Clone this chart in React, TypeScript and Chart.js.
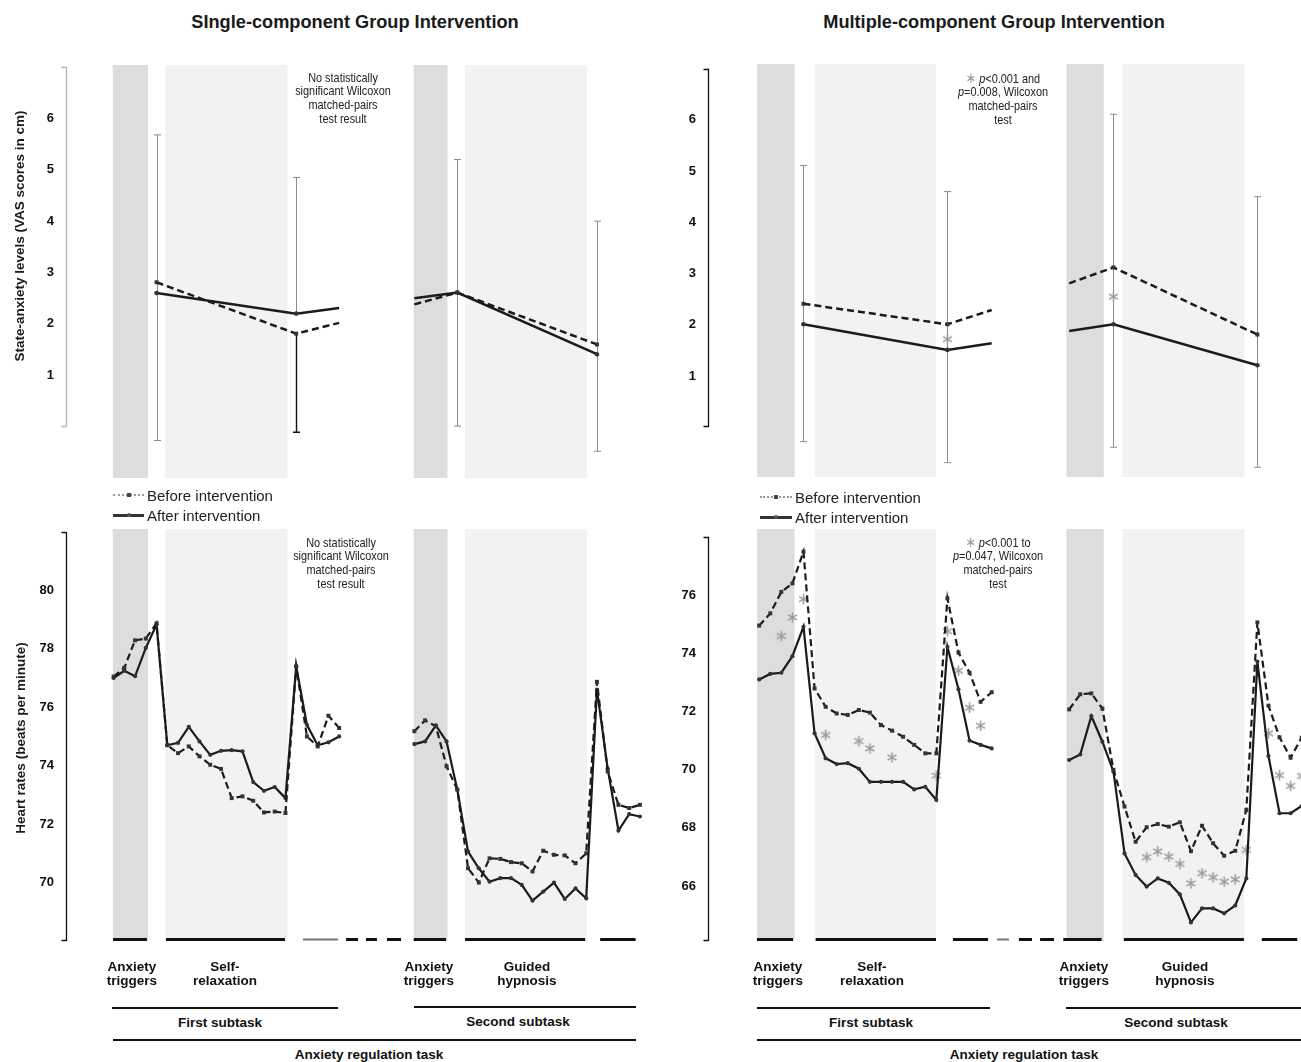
import React, { useEffect, useRef } from 'react';
import { Chart, registerables } from 'chart.js';

Chart.register(...registerables);

// ---------------- data ----------------
// sample positions (one per heart-rate sample) shared by all panels
const hrIdxFirst = [0, 1, 2, 3, 4, 5, 6, 7, 8, 9, 10, 11, 12, 13, 14, 15, 16, 17, 18, 19, 20, 21];
const hrIdxSecond = [28, 29, 30, 31, 32, 33, 34, 35, 36, 37, 38, 39, 40, 41, 42, 43, 44, 45, 46, 47, 48, 49];

// Single-component group, heart rates
const singleHrBefore1 = [77.05, 77.35, 78.29, 78.35, 78.87, 74.7, 74.43, 74.66, 74.32, 74.03, 73.89, 72.89, 72.95, 72.8, 72.4, 72.43, 72.38, 77.4, 75.0, 74.66, 75.71, 75.29];
const singleHrAfter1 = [77.0, 77.25, 77.06, 78.03, 78.83, 74.7, 74.78, 75.33, 74.83, 74.37, 74.51, 74.53, 74.49, 73.44, 73.14, 73.27, 72.89, 77.4, 75.4, 74.7, 74.8, 75.0];
const singleHrBefore2 = [75.18, 75.55, 75.35, 73.98, 73.18, 70.49, 70.0, 70.83, 70.81, 70.7, 70.66, 70.38, 71.09, 70.95, 70.93, 70.66, 71.0, 76.87, 73.8, 72.66, 72.55, 72.66];
const singleHrAfter2 = [74.74, 74.83, 75.38, 74.83, 73.18, 71.06, 70.49, 70.03, 70.15, 70.15, 69.92, 69.38, 69.69, 70.0, 69.44, 69.8, 69.46, 76.6, 73.9, 71.78, 72.34, 72.26];

// Multiple-component group, heart rates
const multiHrBefore1 = [74.95, 75.37, 76.11, 76.4, 77.49, 72.79, 72.16, 71.93, 71.88, 72.05, 71.96, 71.53, 71.34, 71.13, 70.85, 70.56, 70.56, 75.89, 74.02, 73.33, 72.33, 72.66];
const multiHrAfter1 = [73.1, 73.29, 73.33, 73.9, 74.91, 71.25, 70.39, 70.19, 70.22, 70.03, 69.58, 69.58, 69.58, 69.58, 69.32, 69.41, 68.96, 74.22, 72.76, 71.0, 70.85, 70.73];
const multiHrBefore2 = [72.07, 72.59, 72.62, 72.1, 69.99, 68.73, 67.52, 68.02, 68.13, 68.04, 68.19, 67.2, 68.07, 67.47, 67.04, 67.21, 68.61, 75.06, 72.2, 71.11, 70.41, 71.1];
const multiHrAfter2 = [70.33, 70.52, 71.84, 70.96, 69.93, 67.12, 66.38, 65.98, 66.26, 66.11, 65.71, 64.75, 65.23, 65.23, 65.06, 65.33, 66.26, 73.71, 70.47, 68.5, 68.5, 68.75];
const multiHrStarIdx = [2, 3, 4, 6, 9, 10, 12, 16, 17, 18, 19, 20, 35, 36, 37, 38, 39, 40, 41, 42, 43, 44, 46, 47, 48, 49];
const multiHrStarVal = [74.59, 75.23, 75.86, 71.19, 70.98, 70.73, 70.42, 69.79, 74.76, 73.4, 72.13, 71.51, 66.99, 67.19, 67.01, 66.76, 66.09, 66.44, 66.3, 66.15, 66.23, 67.24, 71.25, 69.81, 69.44, 69.78];

// State anxiety (VAS)
const vasIdxFirst = [4, 17, 21];
const vasIdxSecond = [28, 32, 45];
const vasMarkedFirst = [true, true, false];
const vasMarkedSecond = [false, true, true];
const singleVasBefore1 = [2.81, 1.81, 2.02];
const singleVasAfter1 = [2.6, 2.2, 2.31];
const singleVasBefore2 = [2.38, 2.61, 1.6];
const singleVasAfter2 = [2.5, 2.61, 1.41];
const multiVasBefore1 = [2.41, 2.01, 2.29];
const multiVasAfter1 = [2.01, 1.51, 1.64];
const multiVasBefore2 = [2.81, 3.12, 1.81];
const multiVasAfter2 = [1.88, 2.01, 1.21];

const singleErrIdx = [4, 17, 17, 32, 45];
const singleErrLow = [-0.27, 2.2, -0.11, 0.01, -0.48];
const singleErrHigh = [5.68, 4.85, 1.81, 5.2, 4.0];
const singleErrKind = ['full', 'upper', 'lower', 'full', 'full'];
const multiErrIdx = [4, 17, 32, 45];
const multiErrLow = [-0.28, -0.69, -0.39, -0.78];
const multiErrHigh = [5.11, 4.6, 6.11, 4.5];
const multiErrKind = ['full', 'full', 'full', 'full'];
const multiVasStarIdx = [17, 32];
const multiVasStarVal = [1.72, 2.55];

// phases (in sample positions): anxiety triggers, relaxation, ...
const bandsLeft = [[-0.07, 3.21], [4.82, 16.19], [27.94, 31.08], [32.72, 44.08]];
const bandsRight = [[-0.19, 3.19], [5.02, 15.97], [27.75, 31.12], [32.81, 43.83]];
const phasesLeft = [[-0.05, 3.1], [4.88, 15.96], [17.63, 20.89], [21.64, 22.76], [23.5, 24.52], [25.45, 26.76], [27.94, 30.95], [32.72, 43.9], [45.3, 48.6]];
const phasesLeftMuted = [false, false, true, false, false, false, false, false, false];
const phasesRight = [[-0.2, 3.05], [5.1, 15.97], [17.5, 20.67], [21.48, 22.56], [23.46, 24.64], [25.37, 26.63], [27.47, 30.93], [32.94, 43.78], [45.4, 48.6]];
const phasesRightMuted = [false, false, false, true, false, false, false, false, false];

const vasTicks = [1, 2, 3, 4, 5, 6];
const singleHrTicks = [70, 72, 74, 76, 78, 80];
const multiHrTicks = [66, 68, 70, 72, 74, 76];

// ---------------- styles ----------------
const SANS = "'Liberation Sans', Arial, Helvetica, sans-serif";
const DARK_BAND = '#dcdddf';
const LIGHT_BAND = '#f1f2f4';
const LINE = '#1b1b1b';
const PAD = 26;

type PanelCfg = {
  canvasLeft: number; axisX: number; right: number; areaTop: number; areaBottom: number;
  xMin: number; xMax: number; yMin: number; yMax: number;
  axisFrom: number; axisTo: number; axisColor: string; ticks: number[];
  bands: number[][]; phases?: number[][]; phasesMuted?: boolean[];
  datasets: any[];
  err?: { idx: number[]; low: number[]; high: number[]; kind: string[] };
};

let starCache: HTMLCanvasElement | null = null;
function asterisk(): HTMLCanvasElement {
  if (starCache) return starCache;
  const c = document.createElement('canvas');
  c.width = 13; c.height = 13;
  const g = c.getContext('2d')!;
  g.strokeStyle = '#9b9b9b';
  g.lineWidth = 1.6;
  const r = 5.2;
  for (let k = 0; k < 3; k++) {
    const a = Math.PI / 2 + (k * Math.PI) / 3;
    g.beginPath();
    g.moveTo(6.5 - r * Math.cos(a), 6.5 - r * Math.sin(a));
    g.lineTo(6.5 + r * Math.cos(a), 6.5 + r * Math.sin(a));
    g.stroke();
  }
  starCache = c;
  return c;
}

function lineSet(xs: number[], ys: number[], dashed: boolean, width: number, marked?: boolean[]) {
  return {
    data: xs.map((x, i) => ({ x, y: ys[i] })),
    borderColor: LINE,
    borderWidth: width,
    borderDash: dashed ? [7, 4] : [],
    pointStyle: dashed ? 'rect' : 'circle',
    pointRadius: marked ? marked.map((m) => (m ? (dashed ? 2.8 : 2.3) : 0)) : dashed ? 2.8 : 2.1,
    pointBackgroundColor: '#333',
    pointBorderColor: '#333',
    pointBorderWidth: 0,
    tension: 0,
    fill: false,
  };
}

function starSet(xs: number[], ys: number[]) {
  return {
    data: xs.map((x, i) => ({ x, y: ys[i] })),
    showLine: false,
    pointStyle: asterisk(),
    pointRadius: 6,
    borderColor: '#9b9b9b',
    backgroundColor: '#9b9b9b',
  };
}

function deco(cfg: PanelCfg) {
  return {
    id: 'deco',
    beforeDatasetsDraw(chart: any) {
      const { ctx, chartArea: a, scales } = chart;
      const x = scales.x, y = scales.y;
      ctx.save();
      cfg.bands.forEach((b, i) => {
        const x0 = x.getPixelForValue(b[0]);
        const x1 = x.getPixelForValue(b[1]);
        ctx.fillStyle = i % 2 === 0 ? DARK_BAND : LIGHT_BAND;
        ctx.fillRect(x0, a.top, x1 - x0, a.bottom - a.top);
      });
      if (cfg.err) {
        const e = cfg.err;
        e.idx.forEach((ix, i) => {
          const px = Math.round(x.getPixelForValue(ix)) + 0.5;
          const lo = y.getPixelForValue(e.low[i]);
          const hi = y.getPixelForValue(e.high[i]);
          const dark = e.kind[i] === 'lower';
          ctx.strokeStyle = dark ? '#111' : '#8c8c8c';
          ctx.lineWidth = dark ? 1.4 : 1;
          ctx.beginPath();
          ctx.moveTo(px, lo);
          ctx.lineTo(px, hi);
          if (e.kind[i] !== 'lower') { ctx.moveTo(px - 3.5, hi); ctx.lineTo(px + 3.5, hi); }
          if (e.kind[i] !== 'upper') { ctx.moveTo(px - 3.5, lo); ctx.lineTo(px + 3.5, lo); }
          ctx.stroke();
        });
      }
      ctx.restore();
    },
    afterDatasetsDraw(chart: any) {
      if (!cfg.phases) return;
      const { ctx, chartArea: a, scales } = chart;
      const x = scales.x;
      ctx.save();
      cfg.phases.forEach((p, i) => {
        const muted = cfg.phasesMuted && cfg.phasesMuted[i];
        ctx.strokeStyle = muted ? '#777' : '#111';
        ctx.lineWidth = muted ? 2 : 3;
        ctx.beginPath();
        ctx.moveTo(x.getPixelForValue(p[0]), a.bottom - 1.5);
        ctx.lineTo(x.getPixelForValue(p[1]), a.bottom - 1.5);
        ctx.stroke();
      });
      ctx.restore();
    },
    afterDraw(chart: any) {
      const { ctx, chartArea: a, scales } = chart;
      const y = scales.y;
      const ax = a.left + 0.5;
      const y0 = y.getPixelForValue(cfg.axisFrom);
      const y1 = y.getPixelForValue(cfg.axisTo);
      ctx.save();
      ctx.strokeStyle = cfg.axisColor;
      ctx.lineWidth = 1.3;
      ctx.beginPath();
      ctx.moveTo(ax, y0);
      ctx.lineTo(ax, y1);
      ctx.moveTo(ax - 5, Math.round(y0) - 0.5);
      ctx.lineTo(ax, Math.round(y0) - 0.5);
      ctx.moveTo(ax - 5, Math.round(y1) + 0.5);
      ctx.lineTo(ax, Math.round(y1) + 0.5);
      ctx.stroke();
      ctx.restore();
    },
  };
}

function Panel({ cfg }: { cfg: PanelCfg }) {
  const ref = useRef<HTMLCanvasElement>(null);
  const width = cfg.right - cfg.canvasLeft;
  const height = cfg.areaBottom - cfg.areaTop + 2 * PAD;
  useEffect(() => {
    const axisWidth = cfg.axisX - cfg.canvasLeft;
    const chart = new Chart(ref.current!, {
      type: 'line',
      data: { datasets: cfg.datasets },
      options: {
        responsive: false,
        animation: false,
        devicePixelRatio: 1,
        events: [],
        layout: { autoPadding: false, padding: { top: PAD, bottom: PAD, left: 0, right: 0 } },
        plugins: { legend: { display: false }, tooltip: { enabled: false }, title: { display: false } },
        scales: {
          x: { type: 'linear', display: false, min: cfg.xMin, max: cfg.xMax },
          y: {
            type: 'linear',
            min: cfg.yMin,
            max: cfg.yMax,
            grid: { display: false, drawTicks: false },
            border: { display: false },
            afterBuildTicks: (s: any) => { s.ticks = cfg.ticks.map((v) => ({ value: v })); },
            afterFit: (s: any) => { s.width = axisWidth; },
            ticks: {
              padding: 12,
              color: '#111',
              font: { family: SANS, size: 13, weight: 'bold' },
            },
          },
        },
      } as any,
      plugins: [deco(cfg)],
    });
    return () => chart.destroy();
  }, []);
  return (
    <canvas
      ref={ref}
      width={width}
      height={height}
      style={{ position: 'absolute', left: cfg.canvasLeft, top: cfg.areaTop - PAD, width, height }}
    />
  );
}

const tlCfg: PanelCfg = {
  canvasLeft: 0, axisX: 66, right: 660, areaTop: 65, areaBottom: 478,
  xMin: -4.43, xMax: 50.87, yMin: -1.0, yMax: 7.04, axisFrom: 0, axisTo: 7, axisColor: '#b4b4b4', ticks: vasTicks,
  bands: bandsLeft,
  err: { idx: singleErrIdx, low: singleErrLow, high: singleErrHigh, kind: singleErrKind },
  datasets: [
    lineSet(vasIdxFirst, singleVasBefore1, true, 2.5, vasMarkedFirst),
    lineSet(vasIdxFirst, singleVasAfter1, false, 2.5, vasMarkedFirst),
    lineSet(vasIdxSecond, singleVasBefore2, true, 2.5, vasMarkedSecond),
    lineSet(vasIdxSecond, singleVasAfter2, false, 2.5, vasMarkedSecond),
  ],
};

const trCfg: PanelCfg = {
  canvasLeft: 650, axisX: 708, right: 1301, areaTop: 64, areaBottom: 477,
  xMin: -4.625, xMax: 48.94, yMin: -0.97, yMax: 7.09, axisFrom: 0, axisTo: 7, axisColor: '#111', ticks: vasTicks,
  bands: bandsRight,
  err: { idx: multiErrIdx, low: multiErrLow, high: multiErrHigh, kind: multiErrKind },
  datasets: [
    lineSet(vasIdxFirst, multiVasBefore1, true, 2.5, vasMarkedFirst),
    lineSet(vasIdxFirst, multiVasAfter1, false, 2.5, vasMarkedFirst),
    lineSet(vasIdxSecond, multiVasBefore2, true, 2.5, vasMarkedSecond),
    lineSet(vasIdxSecond, multiVasAfter2, false, 2.5, vasMarkedSecond),
    starSet(multiVasStarIdx, multiVasStarVal),
  ],
};

const blCfg: PanelCfg = {
  canvasLeft: 0, axisX: 66, right: 660, areaTop: 529, areaBottom: 941,
  xMin: -4.43, xMax: 50.87, yMin: 68, yMax: 82.1, axisFrom: 68, axisTo: 82, axisColor: '#111', ticks: singleHrTicks,
  bands: bandsLeft, phases: phasesLeft, phasesMuted: phasesLeftMuted,
  datasets: [
    lineSet(hrIdxFirst, singleHrBefore1, true, 2.2),
    lineSet(hrIdxFirst, singleHrAfter1, false, 2.2),
    lineSet(hrIdxSecond, singleHrBefore2, true, 2.2),
    lineSet(hrIdxSecond, singleHrAfter2, false, 2.2),
  ],
};

const brCfg: PanelCfg = {
  canvasLeft: 650, axisX: 708, right: 1301, areaTop: 529, areaBottom: 941,
  xMin: -4.625, xMax: 48.94, yMin: 64.11, yMax: 78.27, axisFrom: 64.11, axisTo: 78, axisColor: '#111', ticks: multiHrTicks,
  bands: bandsRight, phases: phasesRight, phasesMuted: phasesRightMuted,
  datasets: [
    lineSet(hrIdxFirst, multiHrBefore1, true, 2.2),
    lineSet(hrIdxFirst, multiHrAfter1, false, 2.2),
    lineSet(hrIdxSecond, multiHrBefore2, true, 2.2),
    lineSet(hrIdxSecond, multiHrAfter2, false, 2.2),
    starSet(multiHrStarIdx, multiHrStarVal),
  ],
};

// ---------------- HTML helpers ----------------
function Txt({ x, y, children, style }: { x: number; y: number; children: React.ReactNode; style?: React.CSSProperties }) {
  return (
    <div style={{ position: 'absolute', left: x, top: y, transform: 'translate(-50%, -50%)', whiteSpace: 'nowrap', textAlign: 'center', ...style }}>
      {children}
    </div>
  );
}

function Note({ x, top, lines }: { x: number; top: number; lines: React.ReactNode[] }) {
  return (
    <div style={{ position: 'absolute', left: x, top, transform: 'translateX(-50%) scaleX(0.82)', whiteSpace: 'nowrap', textAlign: 'center', fontFamily: SANS, fontSize: 13.3, lineHeight: '13.7px', color: '#222' }}>
      {lines.map((l, i) => (<div key={i}>{l}</div>))}
    </div>
  );
}

function HLine({ x0, x1, y, w = 2 }: { x0: number; x1: number; y: number; w?: number }) {
  return <div style={{ position: 'absolute', left: x0, top: y - w / 2, width: x1 - x0, height: w, background: '#111' }} />;
}

function Legend({ x, y, textX }: { x: number; y: number; textX: number }) {
  const len = textX - x - 3;
  return (
    <>
      <div style={{ position: 'absolute', left: x, top: y - 1, width: len, height: 0, borderTop: '2px dotted #9a9a9a' }} />
      <div style={{ position: 'absolute', left: x + len / 2 - 2, top: y - 2, width: 4, height: 4, background: '#444' }} />
      <div style={{ position: 'absolute', left: textX, top: y, transform: 'translateY(-50%)', fontFamily: SANS, fontSize: 15, color: '#222', whiteSpace: 'nowrap' }}>Before intervention</div>
      <div style={{ position: 'absolute', left: x, top: y + 19, width: len, height: 2.5, background: '#333' }} />
      <div style={{ position: 'absolute', left: x + len / 2 - 2, top: y + 18.2, width: 4, height: 4, borderRadius: 2, background: '#555' }} />
      <div style={{ position: 'absolute', left: textX, top: y + 20, transform: 'translateY(-50%)', fontFamily: SANS, fontSize: 15, color: '#222', whiteSpace: 'nowrap' }}>After intervention</div>
    </>
  );
}

const star = <span style={{ color: '#9b9b9b', fontFamily: "'DejaVu Sans', sans-serif", fontSize: 15 }}>∗</span>;

const phaseLbl: React.CSSProperties = { fontFamily: SANS, fontWeight: 'bold', fontSize: 13.5, lineHeight: '14px', color: '#111' };

function PhaseLabels({ xs }: { xs: number[] }) {
  const labels = [['Anxiety', 'triggers'], ['Self-', 'relaxation'], ['Anxiety', 'triggers'], ['Guided', 'hypnosis']];
  return (
    <>
      {labels.map((l, i) => (
        <div key={i} style={{ position: 'absolute', left: xs[i], top: 960, transform: 'translateX(-50%)', whiteSpace: 'nowrap', textAlign: 'center', ...phaseLbl }}>
          <div>{l[0]}</div>
          <div>{l[1]}</div>
        </div>
      ))}
    </>
  );
}

export default function App() {
  const title: React.CSSProperties = { fontFamily: SANS, fontWeight: 'bold', fontSize: 18.2, color: '#1a1a1a' };
  const axisTitle: React.CSSProperties = { fontFamily: SANS, fontWeight: 'bold', fontSize: 13.5, color: '#1a1a1a' };
  const subLbl: React.CSSProperties = { fontFamily: SANS, fontWeight: 'bold', fontSize: 13.5, color: '#111' };
  return (
    <div style={{ position: 'absolute', left: 0, top: 0, width: 1301, height: 1062, overflow: 'hidden', background: '#fff' }}>
      <Panel cfg={tlCfg} />
      <Panel cfg={trCfg} />
      <Panel cfg={blCfg} />
      <Panel cfg={brCfg} />

      <Txt x={355} y={22} style={title}>SIngle-component Group Intervention</Txt>
      <Txt x={994} y={22} style={title}>Multiple-component Group Intervention</Txt>

      <Txt x={19} y={236} style={{ ...axisTitle, transform: 'translate(-50%, -50%) rotate(-90deg)' }}>State-anxiety levels (VAS scores in cm)</Txt>
      <Txt x={20} y={738} style={{ ...axisTitle, transform: 'translate(-50%, -50%) rotate(-90deg)' }}>Heart rates (beats per minute)</Txt>

      <Note x={343} top={70.5} lines={['No statistically', 'significant Wilcoxon', 'matched-pairs', 'test result']} />
      <Note x={1003} top={71.5} lines={[<>{star} <i>p</i>&lt;0.001 and</>, <><i>p</i>=0.008, Wilcoxon</>, 'matched-pairs', 'test']} />
      <Note x={341} top={535.5} lines={['No statistically', 'significant Wilcoxon', 'matched-pairs', 'test result']} />
      <Note x={998} top={535.5} lines={[<>{star} <i>p</i>&lt;0.001 to</>, <><i>p</i>=0.047, Wilcoxon</>, 'matched-pairs', 'test']} />

      <Legend x={113} y={495} textX={147} />
      <Legend x={760} y={497} textX={795} />

      <PhaseLabels xs={[132, 225, 429, 527]} />
      <PhaseLabels xs={[778, 872, 1084, 1185]} />

      <HLine x0={112} x1={338} y={1007.5} />
      <Txt x={220} y={1022} style={subLbl}>First subtask</Txt>
      <HLine x0={414} x1={636} y={1006.5} />
      <Txt x={518} y={1021} style={subLbl}>Second subtask</Txt>
      <HLine x0={113} x1={636} y={1040} />
      <Txt x={369} y={1053.5} style={subLbl}>Anxiety regulation task</Txt>

      <HLine x0={757} x1={990} y={1008} />
      <Txt x={871} y={1022} style={subLbl}>First subtask</Txt>
      <HLine x0={1066} x1={1301} y={1008} />
      <Txt x={1176} y={1022} style={subLbl}>Second subtask</Txt>
      <HLine x0={757} x1={1301} y={1040} />
      <Txt x={1024} y={1053.5} style={subLbl}>Anxiety regulation task</Txt>
    </div>
  );
}
